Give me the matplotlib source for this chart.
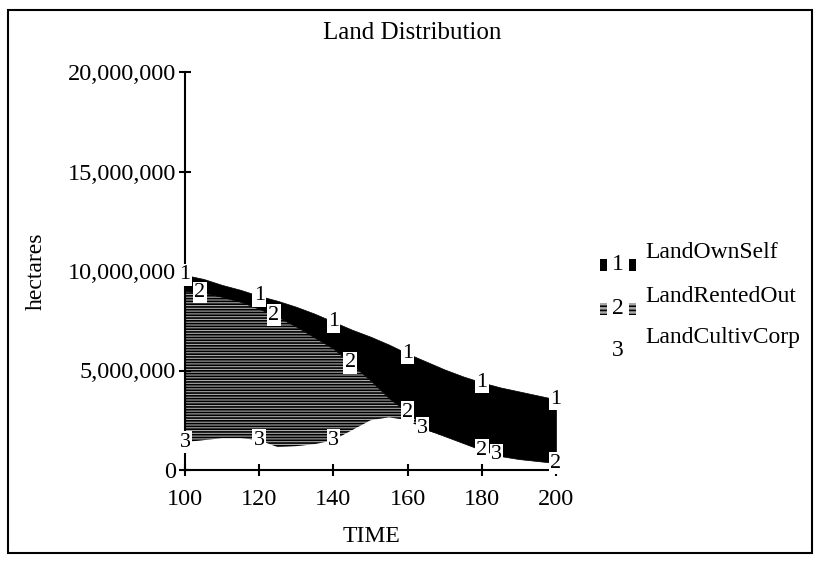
import numpy as np
import matplotlib
matplotlib.use('Agg')
import matplotlib.pyplot as plt
from matplotlib.patches import Rectangle

# данные (гектары, млн)
time = [100, 105, 110, 115, 120, 125, 130, 135, 140, 145, 150,
        155, 160, 165, 170, 175, 180, 185, 190, 195, 200]
land_own_self = [0.8, 0.7, 0.6, 0.6, 0.65, 0.8, 1.0, 1.2, 1.35, 1.75, 2.2,
                 2.7, 2.95, 3.4, 3.35, 3.35, 3.4, 3.45, 3.4, 3.3, 3.2]
land_rented_out = [7.6, 7.4, 7.1, 6.85, 6.6, 6.55, 6.0, 5.35, 4.6, 3.3, 2.0,
                   0.95, 0.4, 0.05, 0.0, 0.0, 0.0, 0.0, 0.0, 0.0, 0.0]
land_cultiv_corp = [1.4, 1.5, 1.6, 1.6, 1.5, 1.15, 1.2, 1.3, 1.5, 2.0, 2.5,
                    2.65, 2.5, 2.0, 1.7, 1.35, 1.0, 0.7, 0.55, 0.45, 0.35]
series_names = ['LandOwnSelf', 'LandRentedOut', 'LandCultivCorp']
y_ticks = [0, 5000000, 10000000, 15000000, 20000000]
x_ticks = [100, 120, 140, 160, 180, 200]

# где стоят номера линий (по оси времени)
label_x_1 = [100, 120, 140, 160, 180, 200]
label_x_2 = [104, 124, 144.5, 160, 180, 200]
label_x_3 = [100, 120, 140, 164, 184]

plt.rcParams['font.family'] = ['Liberation Serif', 'DejaVu Serif']
plt.rcParams['hatch.linewidth'] = 1.2
plt.rcParams['hatch.color'] = 'black'

W, H = 818, 561
fig = plt.figure(figsize=(W / 100, H / 100), dpi=100)


def fx(px):
    return px / W


def fy(py):
    return 1 - py / H


t = np.array(time)
corp = np.array(land_cultiv_corp) * 1e6
line2 = corp + np.array(land_rented_out) * 1e6
line1 = line2 + np.array(land_own_self) * 1e6

ax = fig.add_axes([fx(185), fy(470), fx(556) - fx(185), fy(72) - fy(470)])
ax.fill_between(t, corp, line2, facecolor='#a8a8a8', hatch='------', edgecolor='black', linewidth=0)
ax.fill_between(t, line2, line1, facecolor='black', edgecolor='black', linewidth=0.5)
ax.plot([t[0], t[0]], [corp[0], line1[0]], color='black', lw=1.5)

ax.set_xlim(100, 200)
ax.set_ylim(0, 20000000)
ax.set_xticks(x_ticks)
ax.set_yticks(y_ticks)
ax.set_yticklabels(['{:,}'.format(v) for v in y_ticks])
for s in ['top', 'right']:
    ax.spines[s].set_visible(False)
for s in ['left', 'bottom']:
    ax.spines[s].set_linewidth(1.5)
ax.tick_params(axis='both', direction='inout', length=9, width=1.5, labelsize=17.5)
ax.tick_params(axis='y', pad=2)
ax.tick_params(axis='x', pad=9)
ax.patch.set_visible(False)

box = dict(facecolor='white', edgecolor='none', pad=1)
for xs, ys, lab in [(label_x_1, line1, '1'), (label_x_2, line2, '2'), (label_x_3, corp, '3')]:
    for xv in xs:
        yv = np.interp(xv, t, ys)
        ax.text(xv, yv, lab, fontsize=16, ha='center', va='center', bbox=box, zorder=5, clip_on=False)

fig.text(fx(412), fy(33), 'Land Distribution', fontsize=18, ha='center', va='center')
fig.text(fx(371), fy(537), 'TIME', fontsize=17, ha='center', va='center')
fig.text(fx(36), fy(271), 'hectares', fontsize=17, ha='center', va='center', rotation=90)

# легенда
leg_y = [265, 309, 351]
for i, name in enumerate(series_names):
    fig.text(fx(645), fy(leg_y[i] - 13), name, fontsize=17, ha='left', va='center')
    fig.text(fx(618), fy(leg_y[i]), str(i + 1), fontsize=17, ha='center', va='center')
    if i < 2:
        for sx in [600, 629]:
            r = Rectangle((fx(sx), fy(leg_y[i] + 6)), fx(7), fy(0) - fy(12), transform=fig.transFigure,
                          facecolor='black' if i == 0 else '#a8a8a8',
                          hatch=None if i == 0 else '----', edgecolor='black', linewidth=0)
            fig.patches.append(r)

# рамка вокруг всего рисунка
frame = Rectangle((fx(8), fy(553)), fx(804), fy(0) - fy(543), transform=fig.transFigure,
                  fill=False, edgecolor='black', linewidth=1.5)
fig.patches.append(frame)

fig.savefig('out.png', dpi=100)
